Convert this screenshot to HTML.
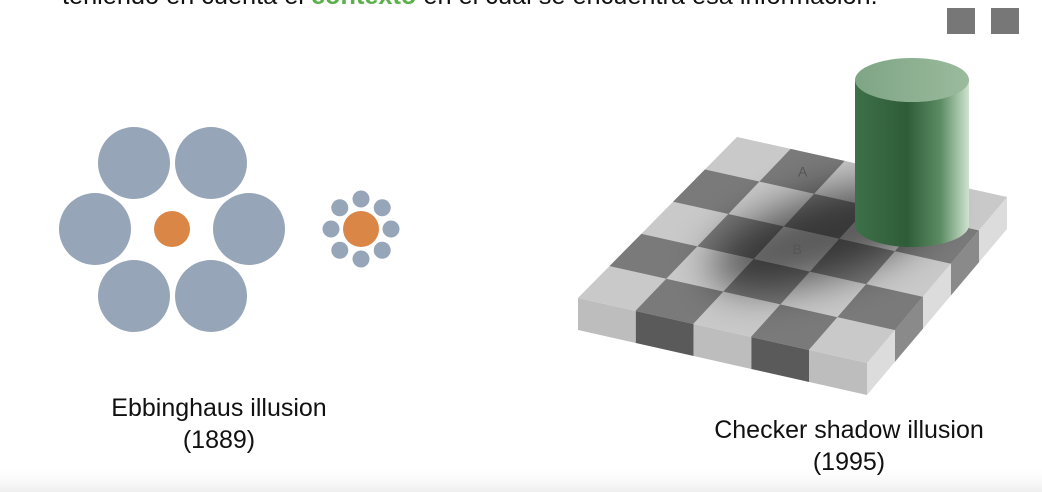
<!DOCTYPE html>
<html><head><meta charset="utf-8"><style>
body{margin:0;width:1042px;height:492px;overflow:hidden;background:#fff;font-family:"Liberation Sans",sans-serif;position:relative}
.t{position:absolute;font-size:25px;color:#111;white-space:nowrap}
</style></head><body>
<div class="t" style="left:62px;top:-18px;font-size:25.3px">teniendo en cuenta el <b style="color:#5bb04a">contexto</b> en el cual se encuentra esa información.</div>
<div style="position:absolute;left:947px;top:8px;width:28px;height:26px;background:#777"></div>
<div style="position:absolute;left:991px;top:8px;width:28px;height:26px;background:#777"></div>
<svg id="s" width="1042" height="492" style="position:absolute;left:0;top:0">
<defs>
<filter id="bl" x="-50%" y="-50%" width="200%" height="200%"><feGaussianBlur stdDeviation="20"/></filter>
<linearGradient id="cyl" x1="0" x2="1"><stop offset="0" stop-color="#3d7048"/><stop offset="0.45" stop-color="#2f5c38"/><stop offset="0.75" stop-color="#5c8c63"/><stop offset="1" stop-color="#cfe3cf"/></linearGradient>
<linearGradient id="top" x1="0" x2="1"><stop offset="0" stop-color="#7ea585"/><stop offset="1" stop-color="#9bbb9d"/></linearGradient>
<linearGradient id="bot" x1="0" y1="0" x2="0" y2="1"><stop offset="0" stop-color="#fff" stop-opacity="0"/><stop offset="1" stop-color="#eee"/></linearGradient>
</defs>
<rect x="0" y="465" width="1042" height="27" fill="url(#bot)"/>
<g id="ebb"></g>
<g id="chk"></g>
</svg>
<div class="t" style="left:0;width:438px;text-align:center;top:392px;line-height:32px">Ebbinghaus illusion<br>(1889)</div>
<div class="t" style="left:680px;width:338px;text-align:center;top:414px;line-height:32px">Checker shadow illusion<br>(1995)</div>
<script>
const NS="http://www.w3.org/2000/svg";
function mk(p,tag,a){const e=document.createElementNS(NS,tag);for(const k in a)e.setAttribute(k,a[k]);p.appendChild(e);return e;}
const ebb=document.getElementById('ebb');
const big=[[134,163],[211,163],[95,229],[249,229],[134,296],[211,296]];
big.forEach(c=>{const e=mk(ebb,'circle',{cx:c[0],cy:c[1],r:36,fill:'#97a5b8'});

});
let o=mk(ebb,'circle',{cx:172,cy:229,r:18,fill:'#da8646'});


for(let k=0;k<8;k++){const a=k*Math.PI/4;const e=mk(ebb,'circle',{cx:361+30*Math.sin(a),cy:229-30*Math.cos(a),r:8.5,fill:'#97a5b8'});

}
o=mk(ebb,'circle',{cx:361,cy:229,r:18,fill:'#da8646'});


const g=document.getElementById('chk');
const L=[578,298],F=[867,363],R=[1007,197],B=[737,137],T=32;
function P(u,v){
const a=[L[0]+(F[0]-L[0])*u,L[1]+(F[1]-L[1])*u],b=[B[0]+(R[0]-B[0])*u,B[1]+(R[1]-B[1])*u];
return [a[0]+(b[0]-a[0])*v,a[1]+(b[1]-a[1])*v];}
const LIGHT='#c9c9c9',DARK='#7a7a7a';
for(let i=0;i<5;i++){const p1=P(i/5,0),p2=P((i+1)/5,0);
const e=mk(g,'polygon',{points:`${p1} ${p2} ${p2[0]},${p2[1]+T} ${p1[0]},${p1[1]+T}`,fill:(i%2==0)?'#bdbdbd':'#5a5a5a'});

}
for(let j=0;j<5;j++){const p1=P(1,j/5),p2=P(1,(j+1)/5);
const e=mk(g,'polygon',{points:`${p1} ${p2} ${p2[0]},${p2[1]+T} ${p1[0]},${p1[1]+T}`,fill:(j%2==0)?'#dcdcdc':'#8a8a8a'});

}
const cp=mk(g,'clipPath',{id:'cp'});mk(cp,'polygon',{points:`${L} ${F} ${R} ${B}`});
const sq=mk(g,'g',{'clip-path':'url(#cp)'});
for(let i=0;i<5;i++)for(let j=0;j<5;j++){
const q=[P(i/5,j/5),P((i+1)/5,j/5),P((i+1)/5,(j+1)/5),P(i/5,(j+1)/5)];
const e=mk(sq,'polygon',{points:q.join(' '),fill:((i+j)%2==0)?LIGHT:DARK,stroke:((i+j)%2==0)?LIGHT:DARK,'stroke-width':0.6});

}
const sh=P(0.5,0.55);
const s1=mk(sq,'ellipse',{cx:sh[0]+20,cy:sh[1]-5,rx:120,ry:42,fill:'#000',opacity:0.55,filter:'url(#bl)',transform:`rotate(-18 ${sh[0]+20} ${sh[1]-5})`});


const pa=P(0.3,0.9),pb=P(0.5,0.5);
let t=mk(g,'text',{x:pa[0],y:pa[1]+5,'font-size':14,'font-family':'Liberation Sans, sans-serif',fill:'#555','text-anchor':'middle'});t.textContent='A';


t=mk(g,'text',{x:pb[0],y:pb[1]+5,'font-size':14,'font-family':'Liberation Sans, sans-serif',fill:'#555','text-anchor':'middle'});t.textContent='B';


const cy=mk(g,'g',{});


mk(cy,'path',{d:'M855,80 L855,225 A57,22 0 0 0 969,225 L969,80 Z',fill:'url(#cyl)'});
mk(cy,'ellipse',{cx:912,cy:80,rx:57,ry:22,fill:'url(#top)'});
</script>
</body></html>
